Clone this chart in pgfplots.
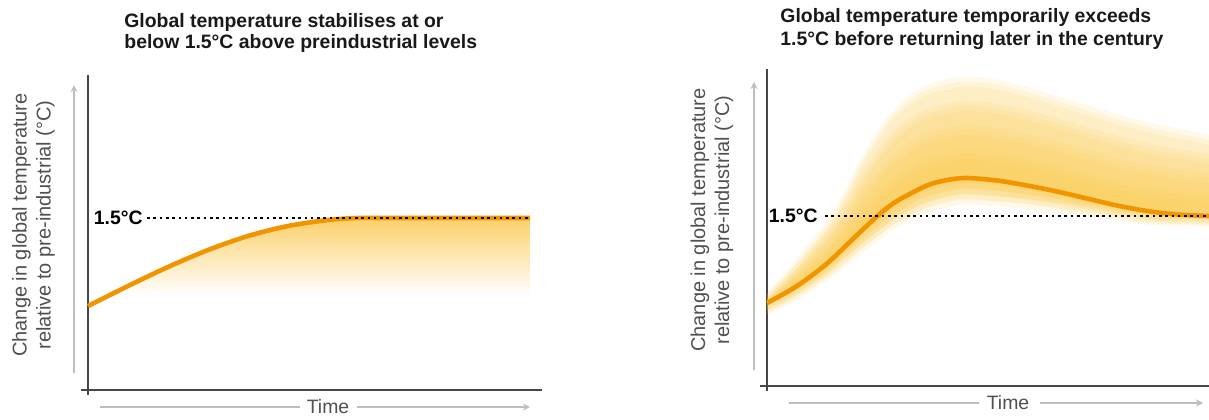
\documentclass[border=0pt]{standalone}
\usepackage{pgfplots}
\pgfplotsset{compat=1.18}
\usepackage{pgfplotstable}
\usepackage{fontspec}
\setmainfont{Liberation Sans}
\definecolor{curveorange}{RGB}{240,148,0}
\definecolor{fillorange}{RGB}{251,208,105}
\definecolor{glow}{RGB}{250,198,65}
\definecolor{axisgrey}{RGB}{70,70,70}
\definecolor{arrowgrey}{RGB}{190,190,190}
\definecolor{labelgrey}{RGB}{80,80,80}

\pgfplotstableread{
x c
0 84
40 104
80 123
120 140
160 154
200 164
240 170
270 172
300 172
442 172
}\leftcurve

\pgfplotstableread{
x y
22 95
40 104
80 123
120 140
160 154
200 164
240 170
270 172
300 172
442 172
442 95
}\leftfill

\pgfplotstableread{
x c
0 83
30 100
60 122.5
90 151
111 170.5
130 185
160 200.5
180 206
200 208
230 205.5
260 200.5
290 194.5
320 187.5
350 180.5
380 175
410 171.5
442 170
}\rightcurve

% glow band outlines: upper edge left to right, then lower edge right to left
% (the right edge lies just outside the picture)
\pgfplotstableread{
x y1 y2 y3 y4
0 88 87 86 84
26 118 113 108 102
60 161 151 142 132
78 191 178 165 152
93 221 204 188 171
111 250 230 210 190
126 271 249 227 204
143 286 263 239 216
160 296 272 248 224
193 304 280 256 232
226 302 278 254 230
260 294 271 247 224
293 284 262 239 217
326 274 252 230 208
360 264 243 221 200
393 256 235 215 194
418 251 231 211 191
442 246 227 208 189
462 242 224 206 188
462 164 166 167 169
442 164 166 167 169
418 165 167 168 170
393 165 167 169 171
360 169 171 174 176
326 174 177 180 183
293 178 182 186 190
260 182 187 191 196
226 185 190 196 201
193 186 192 197 203
160 178 184 189 195
143 170 176 181 187
126 161 166 172 177
111 150 155 160 165
93 136 141 145 150
78 124 128 132 135
60 110 113 116 119
26 89 91 93 95
0 76 78 80 81
}\rightglow

\tikzset{
  dotline/.style={black, line width=1.3pt, dash pattern=on 1.3pt off 1.85pt},
}
\pgfplotsset{
  panel/.style={
    scale only axis,
    axis lines=middle,
    axis line style={draw=axisgrey, line width=1pt, -},
    xtick=\empty, ytick=\empty,
    clip=false,
    anchor=south west,
  },
  curvestyle/.style={curveorange, line width=2.3pt, smooth},
  glowlayer/.style={draw=none, fill=glow, fill opacity=0.115, smooth},
}

\begin{document}
\begin{tikzpicture}
\useasboundingbox (0,0) rectangle (604.5pt,209.5pt);
\fontsize{9.7pt}{11.5pt}\selectfont
% ---------------- left panel ----------------
\begin{axis}[panel, at={(40.5pt,12pt)},
  xmin=-7, xmax=454, ymin=-5, ymax=315,
  width=230.5pt, height=160pt]
  \addplot[draw=none, top color=fillorange, bottom color=white] table[x=x, y=y] {\leftfill} -- cycle;
  \addplot[curvestyle] table[x=x, y=c] {\leftcurve};
  \draw[dotline] (axis cs:59,172) -- (axis cs:442,172);
  \node[anchor=east, font=\bfseries, inner sep=0pt] at (axis cs:55,172) {1.5°C};
  \draw[arrowgrey, line width=0.6pt, -stealth] (axis cs:-14,17) -- (axis cs:-14,305);
  \draw[arrowgrey, line width=0.6pt] (axis cs:12,-17) -- (axis cs:212,-17);
  \draw[arrowgrey, line width=0.6pt, -stealth] (axis cs:269,-17) -- (axis cs:442,-17);
  \node[labelgrey, inner sep=0pt] at (axis cs:240,-17) {Time};
  \node[labelgrey, rotate=90, align=center, inner sep=0pt, font=\fontsize{10pt}{12pt}\selectfont] at (axis cs:-54.5,165)
    {Change in global temperature\\relative to pre-industrial (°C)};
  \node[anchor=base west, font=\bfseries, inner sep=0pt, text=black!90] at (axis cs:36,363)
    {Global temperature stabilises at or};
  \node[anchor=base west, font=\bfseries, inner sep=0pt, text=black!90] at (axis cs:36,342)
    {below 1.5°C above preindustrial levels};
\end{axis}
% ---------------- right panel ----------------
\begin{axis}[panel, at={(380pt,14pt)},
  xmin=-7, xmax=442, ymin=-5, ymax=317,
  width=224.5pt, height=161pt]
  \addplot[glowlayer, yshift=-2.5pt] table[x=x, y=y1] {\rightglow} -- cycle;
  \addplot[glowlayer, yshift=-2.5pt] table[x=x, y=y2] {\rightglow} -- cycle;
  \addplot[glowlayer, yshift=-2.5pt] table[x=x, y=y3] {\rightglow} -- cycle;
  \addplot[glowlayer, yshift=-2.5pt] table[x=x, y=y4] {\rightglow} -- cycle;
  \addplot[glowlayer] table[x=x, y=y1] {\rightglow} -- cycle;
  \addplot[glowlayer] table[x=x, y=y2] {\rightglow} -- cycle;
  \addplot[glowlayer] table[x=x, y=y3] {\rightglow} -- cycle;
  \addplot[glowlayer] table[x=x, y=y4] {\rightglow} -- cycle;
  \addplot[glowlayer, yshift=2.5pt] table[x=x, y=y1] {\rightglow} -- cycle;
  \addplot[glowlayer, yshift=2.5pt] table[x=x, y=y2] {\rightglow} -- cycle;
  \addplot[glowlayer, yshift=2.5pt] table[x=x, y=y3] {\rightglow} -- cycle;
  \addplot[glowlayer, yshift=2.5pt] table[x=x, y=y4] {\rightglow} -- cycle;
  \addplot[curvestyle] table[x=x, y=c] {\rightcurve};
  \draw[dotline] (axis cs:58,170) -- (axis cs:442,170);
  \node[anchor=east, font=\bfseries, inner sep=0pt] at (axis cs:51,170) {1.5°C};
  \draw[arrowgrey, line width=0.6pt, -stealth] (axis cs:-13,16) -- (axis cs:-13,304);
  \draw[arrowgrey, line width=0.6pt] (axis cs:22,-17) -- (axis cs:212,-17);
  \draw[arrowgrey, line width=0.6pt, -stealth] (axis cs:273,-17) -- (axis cs:436,-17);
  \node[labelgrey, inner sep=0pt] at (axis cs:241,-17) {Time};
  \node[labelgrey, rotate=90, align=center, inner sep=0pt, font=\fontsize{10pt}{12pt}\selectfont] at (axis cs:-55,166)
    {Change in global temperature\\relative to pre-industrial (°C)};
  \node[anchor=base west, font=\bfseries, inner sep=0pt, text=black!90] at (axis cs:13,363)
    {Global temperature temporarily exceeds};
  \node[anchor=base west, font=\bfseries, inner sep=0pt, text=black!90] at (axis cs:13,340)
    {1.5°C before returning later in the century};
\end{axis}
\end{tikzpicture}
\end{document}
